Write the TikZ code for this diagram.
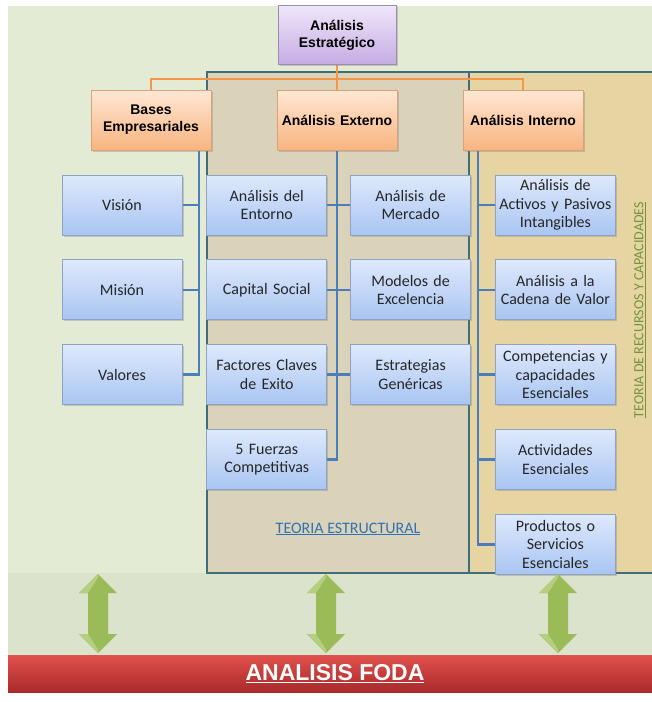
\documentclass[tikz,border=0pt]{standalone}
\usepackage{fontspec}
\setmainfont{Carlito}
\newfontfamily\headfont{Liberation Sans}
\usetikzlibrary{positioning,shadows,backgrounds}

\definecolor{panel}{HTML}{E4EBD5}
\definecolor{panellow}{HTML}{DCE3CD}
\definecolor{tanzone}{HTML}{DBD3B9}
\definecolor{ochrezone}{HTML}{E6D4A3}
\definecolor{zoneedge}{HTML}{3F6E78}
\definecolor{leaftop}{HTML}{DEE9FC}
\definecolor{leafbot}{HTML}{A9C5F2}
\definecolor{boxedge}{HTML}{8CA3C4}
\definecolor{branchtop}{HTML}{FFE7D4}
\definecolor{branchbot}{HTML}{F8B47F}
\definecolor{branchedge}{HTML}{D9A27A}
\definecolor{roottop}{HTML}{EFE7F9}
\definecolor{rootbot}{HTML}{C5ABE3}
\definecolor{rootedge}{HTML}{9A8BB0}
\definecolor{linkblue}{HTML}{4A7EBB}
\definecolor{orglink}{HTML}{F79646}
\definecolor{arrowgreen}{HTML}{9BBB59}
\definecolor{arrowlight}{HTML}{B5CF80}
\definecolor{redtop}{HTML}{E0504D}
\definecolor{redbot}{HTML}{AA2A2A}
\definecolor{leaftext}{HTML}{262626}
\definecolor{estrblue}{HTML}{2F72B8}
\definecolor{recolive}{HTML}{76923C}

\tikzset{
  foda arrow/.pic={
    \fill[arrowgreen] (0,-39.5) -- (19,-20.5) -- (10,-20.5) -- (10,20.5) -- (19,20.5)
      -- (0,39.5) -- (-19,20.5) -- (-10,20.5) -- (-10,-20.5) -- (-19,-20.5) -- cycle;
    \fill[arrowlight] (0,-39.5) -- (-19,-20.5) -- (-10,-20.5) -- (0,-36) -- cycle;
    \fill[arrowlight] (0,39.5) -- (-19,20.5) -- (-10,20.5) -- (0,36) -- cycle;
  }
}

\begin{document}
\begin{tikzpicture}[
    x=1pt, y=-1pt,
    node distance=24pt and 23pt,
    box/.style={draw=boxedge, line width=0.8pt, minimum width=120pt, minimum height=60pt,
      text width=118pt, align=center, inner sep=0pt, text=leaftext,
      font=\fontsize{16}{18.5}\selectfont,
      drop shadow={shadow xshift=1.5pt, shadow yshift=-1.5pt, opacity=0.35}},
    leaf/.style={box, top color=leaftop, bottom color=leafbot},
    branch/.style={box, top color=branchtop, bottom color=branchbot, draw=branchedge,
      text=black, font=\headfont\bfseries\fontsize{14}{17}\selectfont},
    root/.style={branch, top color=roottop, bottom color=rootbot, draw=rootedge,
      minimum width=118pt, minimum height=59pt},
    link/.style={draw=linkblue, line width=2.6pt},
    orgline/.style={draw=orglink, line width=2.6pt},
    zone/.style={draw=zoneedge, line width=2.2pt},
    fodabar/.style={top color=redtop, bottom color=redbot, minimum width=654pt, minimum height=37pt,
      inner sep=0pt, text=white, font=\headfont\bfseries\fontsize{23}{26}\selectfont},
    theory/.style={inner sep=0pt, font=\fontsize{16}{18}\selectfont}
]
\useasboundingbox (0,0) rectangle (652,702);

% panels and the two theory zones
\begin{scope}[on background layer]
  \fill[panel] (8,6) rectangle (652,573);
  \fill[panellow] (8,573) rectangle (652,692);
  \draw[zone, fill=tanzone] (207,72) rectangle (469,573);
  \draw[zone, fill=ochrezone] (469,72) rectangle (662,573);
\end{scope}

% top of the tree
\node[root] (strat) at (337,35) {Análisis\\Estratégico};
\node[branch] (bases) at (151,120) {Bases\\Empresariales};
\node[branch] (ext) at (337,120) {Análisis Externo};
\node[branch] (int) at (523,120) {Análisis Interno};

% bases empresariales
\node[leaf] (vision) at (122,205) {Visión};
\node[leaf, below=of vision] (mision) {Misión};
\node[leaf, below=of mision] (valores) {Valores};

% analisis externo
\node[leaf, right=24pt of vision] (entorno) {Análisis del\\Entorno};
\node[leaf, below=of entorno] (capital) {Capital Social};
\node[leaf, below=of capital] (factores) {Factores Claves\\de Exito};
\node[leaf, below=of factores] (fuerzas) {5 Fuerzas\\Competitivas};
\node[leaf, right=of entorno] (mercado) {Análisis de\\Mercado};
\node[leaf, below=of mercado] (modelos) {Modelos de\\Excelencia};
\node[leaf, below=of modelos] (genericas) {Estrategias\\Genéricas};

% analisis interno
\node[leaf, right=24pt of mercado] (activos) {Análisis de\\Activos y Pasivos\\Intangibles};
\node[leaf, below=of activos] (cadena) {Análisis a la\\Cadena de Valor};
\node[leaf, below=of cadena] (competencias) {Competencias y\\capacidades\\Esenciales};
\node[leaf, below=of competencias] (actividades) {Actividades\\Esenciales};
\node[leaf, below=of actividades] (productos) {Productos o\\Servicios\\Esenciales};

\node[theory, text=estrblue] (estructural) at (348,529) {\underline{TEORIA ESTRUCTURAL}};
\node[theory, text=recolive, rotate=90, font=\fontsize{14}{16}\selectfont]
  (recursos) at (640,310) {\underline{TEORIA DE RECURSOS Y CAPACIDADES}};

\node[fodabar] (foda) at (335,673.5) {\underline{ANALISIS FODA}};

\pic at (98,613.5) {foda arrow};
\pic at (326,613.5) {foda arrow};
\pic at (558,613.5) {foda arrow};

% connectors
\coordinate (fork) at (337,79);
\coordinate (btrunk) at ([xshift=48pt]bases.south);
\coordinate (itrunk) at ([xshift=-45pt]int.south);
\begin{scope}[on background layer]
  \draw[orgline] (strat.south) -- (ext.north);
  \draw[orgline] (bases.north) |- (fork) -| (int.north);
  \foreach \c in {vision,mision,valores}
    \draw[link] (btrunk) |- (\c.east);
  \foreach \c in {entorno,capital,factores,fuerzas}
    \draw[link] (ext.south) |- (\c.east);
  \foreach \c in {mercado,modelos,genericas}
    \draw[link] (ext.south) |- (\c.west);
  \foreach \c in {activos,cadena,competencias,actividades,productos}
    \draw[link] (itrunk) |- (\c.west);
\end{scope}
\end{tikzpicture}
\end{document}
